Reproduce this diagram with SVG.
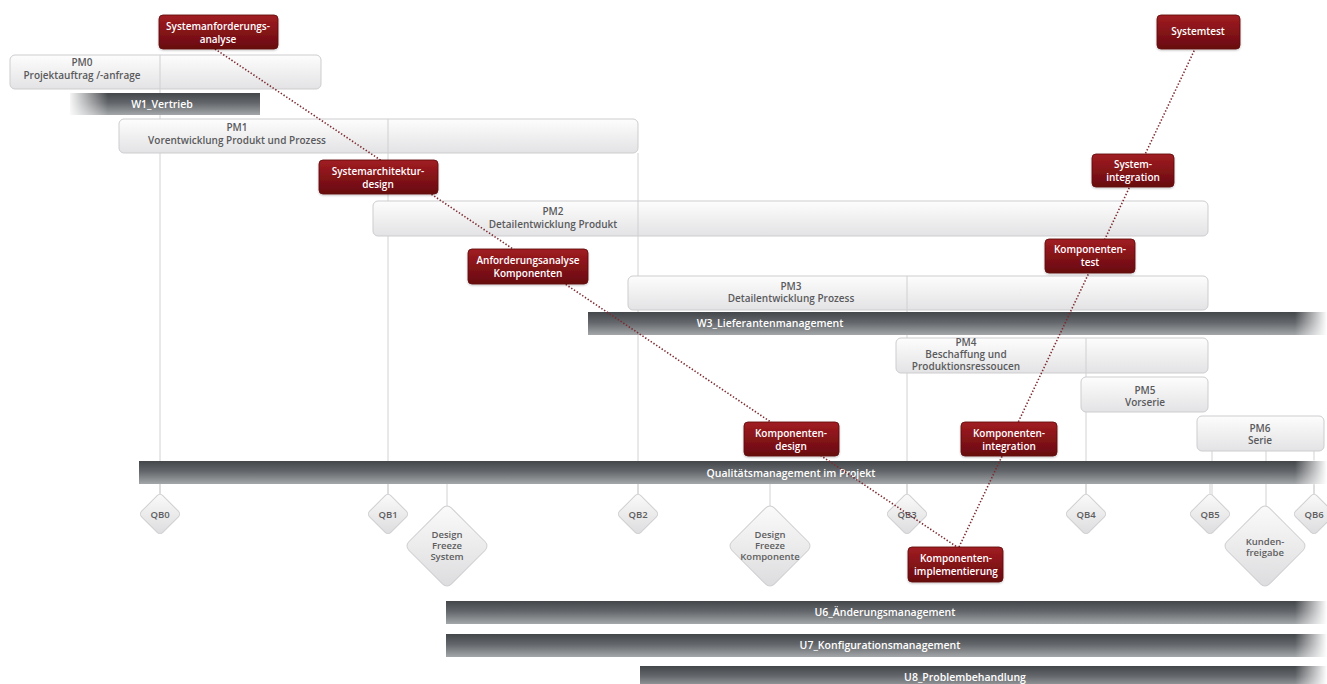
<svg xmlns="http://www.w3.org/2000/svg" width="1327" height="684" viewBox="0 0 1327 684">
<defs>
<linearGradient id="gBox" x1="0" y1="0" x2="0" y2="1">
<stop offset="0" stop-color="#fdfdfd"/>
<stop offset="1" stop-color="#e3e3e5"/>
</linearGradient>
<linearGradient id="gBar" x1="0" y1="0" x2="0" y2="1">
<stop offset="0" stop-color="#44474a"/>
<stop offset="0.45" stop-color="#63666a"/>
<stop offset="1" stop-color="#a4a7a9"/>
</linearGradient>
<linearGradient id="gRed" x1="0" y1="0" x2="0" y2="1">
<stop offset="0" stop-color="#a11d22"/>
<stop offset="1" stop-color="#680a0f"/>
</linearGradient>
<linearGradient id="gDia" x1="0" y1="0" x2="1" y2="1">
<stop offset="0" stop-color="#fbfbfb"/>
<stop offset="1" stop-color="#dcdcde"/>
</linearGradient>
<linearGradient id="fadeR" x1="0" y1="0" x2="1" y2="0">
<stop offset="0" stop-color="#fff" stop-opacity="0"/>
<stop offset="1" stop-color="#fff" stop-opacity="1"/>
</linearGradient>
<linearGradient id="fadeL" x1="0" y1="0" x2="1" y2="0">
<stop offset="0" stop-color="#fff" stop-opacity="1"/>
<stop offset="1" stop-color="#fff" stop-opacity="0"/>
</linearGradient>
<filter id="sh" x="-10%" y="-10%" width="120%" height="140%">
<feDropShadow dx="0" dy="1" stdDeviation="1" flood-color="#000" flood-opacity="0.25"/>
</filter>
</defs>
<style>
.guide{stroke:#d2d2d4;stroke-width:1;fill:none}
.box{fill:url(#gBox);stroke:#cdcdd0;stroke-width:1}
.div{stroke:#d0d0d2;stroke-width:1}
.bt{font-family:"Open Sans","Liberation Sans",sans-serif;font-size:10px;font-weight:600;fill:#5a5a5c;text-anchor:middle}
.bar{fill:url(#gBar)}
.bart{font-family:"Open Sans","Liberation Sans",sans-serif;font-size:10.5px;font-weight:600;fill:#ffffff;text-anchor:middle}
.dia{fill:url(#gDia);stroke:#cfcfd2;stroke-width:1}
.dt{font-family:"Open Sans","Liberation Sans",sans-serif;font-size:9.5px;font-weight:600;fill:#5e5e60;text-anchor:middle}
.red{fill:url(#gRed);stroke:#5e080c;stroke-width:0.8;filter:url(#sh)}
.rt{font-family:"Open Sans","Liberation Sans",sans-serif;font-size:10px;font-weight:600;fill:#ffffff;text-anchor:middle}
.con{stroke:#7c2a30;stroke-width:1.6;stroke-dasharray:1.4 1.9;fill:none}
</style>
<rect width="1327" height="684" fill="#ffffff"/>

<g id="guides">
<line class="guide" x1="160" y1="89" x2="160" y2="500"/>
<line class="guide" x1="388" y1="153" x2="388" y2="500"/>
<line class="guide" x1="638" y1="153" x2="638" y2="500"/>
<line class="guide" x1="907" y1="276" x2="907" y2="500"/>
<line class="guide" x1="1086" y1="373" x2="1086" y2="500"/>
<line class="guide" x1="1212" y1="451" x2="1212" y2="500"/>
<line class="guide" x1="1266" y1="451" x2="1266" y2="510"/>
<line class="guide" x1="1314" y1="451" x2="1314" y2="500"/>
<line class="guide" x1="447" y1="484" x2="447" y2="510"/>
<line class="guide" x1="770" y1="484" x2="770" y2="510"/>
</g>

<g id="PM0">
<rect class="box" x="10" y="55" width="311" height="34" rx="5"/>
<line class="div" x1="160" y1="55" x2="160" y2="89"/>
<text class="bt" x="82" y="66">PM0</text>
<text class="bt" x="82" y="79">Projektauftrag /-anfrage</text>
</g>
<g id="W1">
<rect class="bar" x="70" y="93" width="190" height="22"/>
<rect x="68" y="92" width="40" height="24" fill="url(#fadeL)"/>
<text class="bart" x="162" y="108">W1_Vertrieb</text>
</g>
<g id="PM1">
<rect class="box" x="119" y="119" width="519" height="34" rx="5"/>
<line class="div" x1="388" y1="119" x2="388" y2="153"/>
<text class="bt" x="237" y="131">PM1</text>
<text class="bt" x="237" y="144">Vorentwicklung Produkt und Prozess</text>
</g>
<g id="PM2">
<rect class="box" x="373" y="201" width="835" height="35" rx="5"/>
<line class="div" x1="638" y1="201" x2="638" y2="236"/>
<text class="bt" x="553" y="215">PM2</text>
<text class="bt" x="553" y="228">Detailentwicklung Produkt</text>
</g>
<g id="PM3">
<rect class="box" x="628" y="276" width="580" height="34" rx="5"/>
<line class="div" x1="907" y1="276" x2="907" y2="310"/>
<text class="bt" x="791" y="290">PM3</text>
<text class="bt" x="791" y="302">Detailentwicklung Prozess</text>
</g>
<g id="W3">
<rect class="bar" x="588" y="312" width="739" height="23"/>
<rect x="1295" y="311" width="32" height="25" fill="url(#fadeR)"/>
<text class="bart" x="770" y="327">W3_Lieferantenmanagement</text>
</g>
<g id="PM4">
<rect class="box" x="896" y="338" width="312" height="35" rx="5"/>
<line class="div" x1="1086" y1="338" x2="1086" y2="373"/>
<text class="bt" x="966" y="346">PM4</text>
<text class="bt" x="966" y="358">Beschaffung und</text>
<text class="bt" x="966" y="370">Produktionsressoucen</text>
</g>
<g id="PM5">
<rect class="box" x="1081" y="377" width="127" height="35" rx="5"/>
<text class="bt" x="1145" y="394">PM5</text>
<text class="bt" x="1145" y="406">Vorserie</text>
</g>
<g id="PM6">
<rect class="box" x="1197" y="416" width="127" height="35" rx="5"/>
<text class="bt" x="1260" y="432">PM6</text>
<text class="bt" x="1260" y="444">Serie</text>
</g>
<g id="QM">
<rect class="bar" x="139" y="461" width="1188" height="23"/>
<rect x="1295" y="460" width="32" height="25" fill="url(#fadeR)"/>
<text class="bart" x="791" y="477">Qualitätsmanagement im Projekt</text>
</g>

<g id="QB0"><line class="guide" x1="160" y1="484" x2="160" y2="494"/><rect class="dia" x="-15" y="-15" width="30" height="30" rx="4" transform="translate(160 514) rotate(45)"/><text class="dt" x="160" y="518">QB0</text></g>
<g id="QB1"><line class="guide" x1="388" y1="484" x2="388" y2="494"/><rect class="dia" x="-15" y="-15" width="30" height="30" rx="4" transform="translate(388 514) rotate(45)"/><text class="dt" x="388" y="518">QB1</text></g>
<g id="QB2"><line class="guide" x1="638" y1="484" x2="638" y2="494"/><rect class="dia" x="-15" y="-15" width="30" height="30" rx="4" transform="translate(638 514) rotate(45)"/><text class="dt" x="638" y="518">QB2</text></g>
<g id="QB3"><line class="guide" x1="907" y1="484" x2="907" y2="494"/><rect class="dia" x="-15" y="-15" width="30" height="30" rx="4" transform="translate(907 514) rotate(45)"/><text class="dt" x="907" y="518">QB3</text></g>
<g id="QB4"><line class="guide" x1="1086" y1="484" x2="1086" y2="494"/><rect class="dia" x="-15" y="-15" width="30" height="30" rx="4" transform="translate(1086 514) rotate(45)"/><text class="dt" x="1086" y="518">QB4</text></g>
<g id="QB5"><line class="guide" x1="1210" y1="484" x2="1210" y2="494"/><rect class="dia" x="-15" y="-15" width="30" height="30" rx="4" transform="translate(1210 514) rotate(45)"/><text class="dt" x="1210" y="518">QB5</text></g>
<g id="QB6"><line class="guide" x1="1314" y1="484" x2="1314" y2="494"/><rect class="dia" x="-15" y="-15" width="30" height="30" rx="4" transform="translate(1314 514) rotate(45)"/><text class="dt" x="1314" y="518">QB6</text></g>

<g id="DFS"><rect class="dia" x="-30" y="-30" width="60" height="60" rx="6" transform="translate(447 546) rotate(45)"/><text class="dt" x="447" y="538">Design</text><text class="dt" x="447" y="549">Freeze</text><text class="dt" x="447" y="560">System</text></g>
<g id="DFK"><rect class="dia" x="-30" y="-30" width="60" height="60" rx="6" transform="translate(770 546) rotate(45)"/><text class="dt" x="770" y="538">Design</text><text class="dt" x="770" y="549">Freeze</text><text class="dt" x="770" y="560">Komponente</text></g>
<g id="KF"><rect class="dia" x="-30" y="-30" width="60" height="60" rx="6" transform="translate(1265 546) rotate(45)"/><text class="dt" x="1265" y="545">Kunden-</text><text class="dt" x="1265" y="556">freigabe</text></g>

<g id="U6"><rect class="bar" x="446" y="601" width="881" height="23"/><rect x="1295" y="600" width="32" height="25" fill="url(#fadeR)"/><text class="bart" x="885" y="616">U6_Änderungsmanagement</text></g>
<g id="U7"><rect class="bar" x="446" y="634" width="881" height="23"/><rect x="1295" y="633" width="32" height="25" fill="url(#fadeR)"/><text class="bart" x="880" y="649">U7_Konfigurationsmanagement</text></g>
<g id="U8"><rect class="bar" x="640" y="666" width="687" height="22"/><rect x="1295" y="665" width="32" height="25" fill="url(#fadeR)"/><text class="bart" x="965" y="681">U8_Problembehandlung</text></g>

<g id="connectors">
<line class="con" x1="215" y1="49" x2="957" y2="547"/>
<line class="con" x1="959" y1="547" x2="1195" y2="49"/>
</g>

<g id="SA"><rect class="red" x="159" y="15" width="119" height="34" rx="4"/><text class="rt" x="218" y="30">Systemanforderungs-</text><text class="rt" x="218" y="43">analyse</text></g>
<g id="SAD"><rect class="red" x="319" y="160" width="119" height="34" rx="4"/><text class="rt" x="378" y="175">Systemarchitektur-</text><text class="rt" x="378" y="188">design</text></g>
<g id="AK"><rect class="red" x="468" y="249" width="120" height="35" rx="4"/><text class="rt" x="528" y="264">Anforderungsanalyse</text><text class="rt" x="528" y="277">Komponenten</text></g>
<g id="KD"><rect class="red" x="744" y="422" width="95" height="34" rx="4"/><text class="rt" x="791" y="437">Komponenten-</text><text class="rt" x="791" y="450">design</text></g>
<g id="KIMP"><rect class="red" x="908" y="547" width="95" height="35" rx="4"/><text class="rt" x="956" y="562">Komponenten-</text><text class="rt" x="956" y="575">implementierung</text></g>
<g id="KI"><rect class="red" x="961" y="422" width="96" height="34" rx="4"/><text class="rt" x="1009" y="437">Komponenten-</text><text class="rt" x="1009" y="450">integration</text></g>
<g id="KT"><rect class="red" x="1045" y="239" width="90" height="34" rx="4"/><text class="rt" x="1090" y="253">Komponenten-</text><text class="rt" x="1090" y="266">test</text></g>
<g id="SI"><rect class="red" x="1092" y="154" width="82" height="33" rx="4"/><text class="rt" x="1133" y="168">System-</text><text class="rt" x="1133" y="181">integration</text></g>
<g id="ST"><rect class="red" x="1157" y="15" width="83" height="34" rx="4"/><text class="rt" x="1198" y="35">Systemtest</text></g>
</svg>
